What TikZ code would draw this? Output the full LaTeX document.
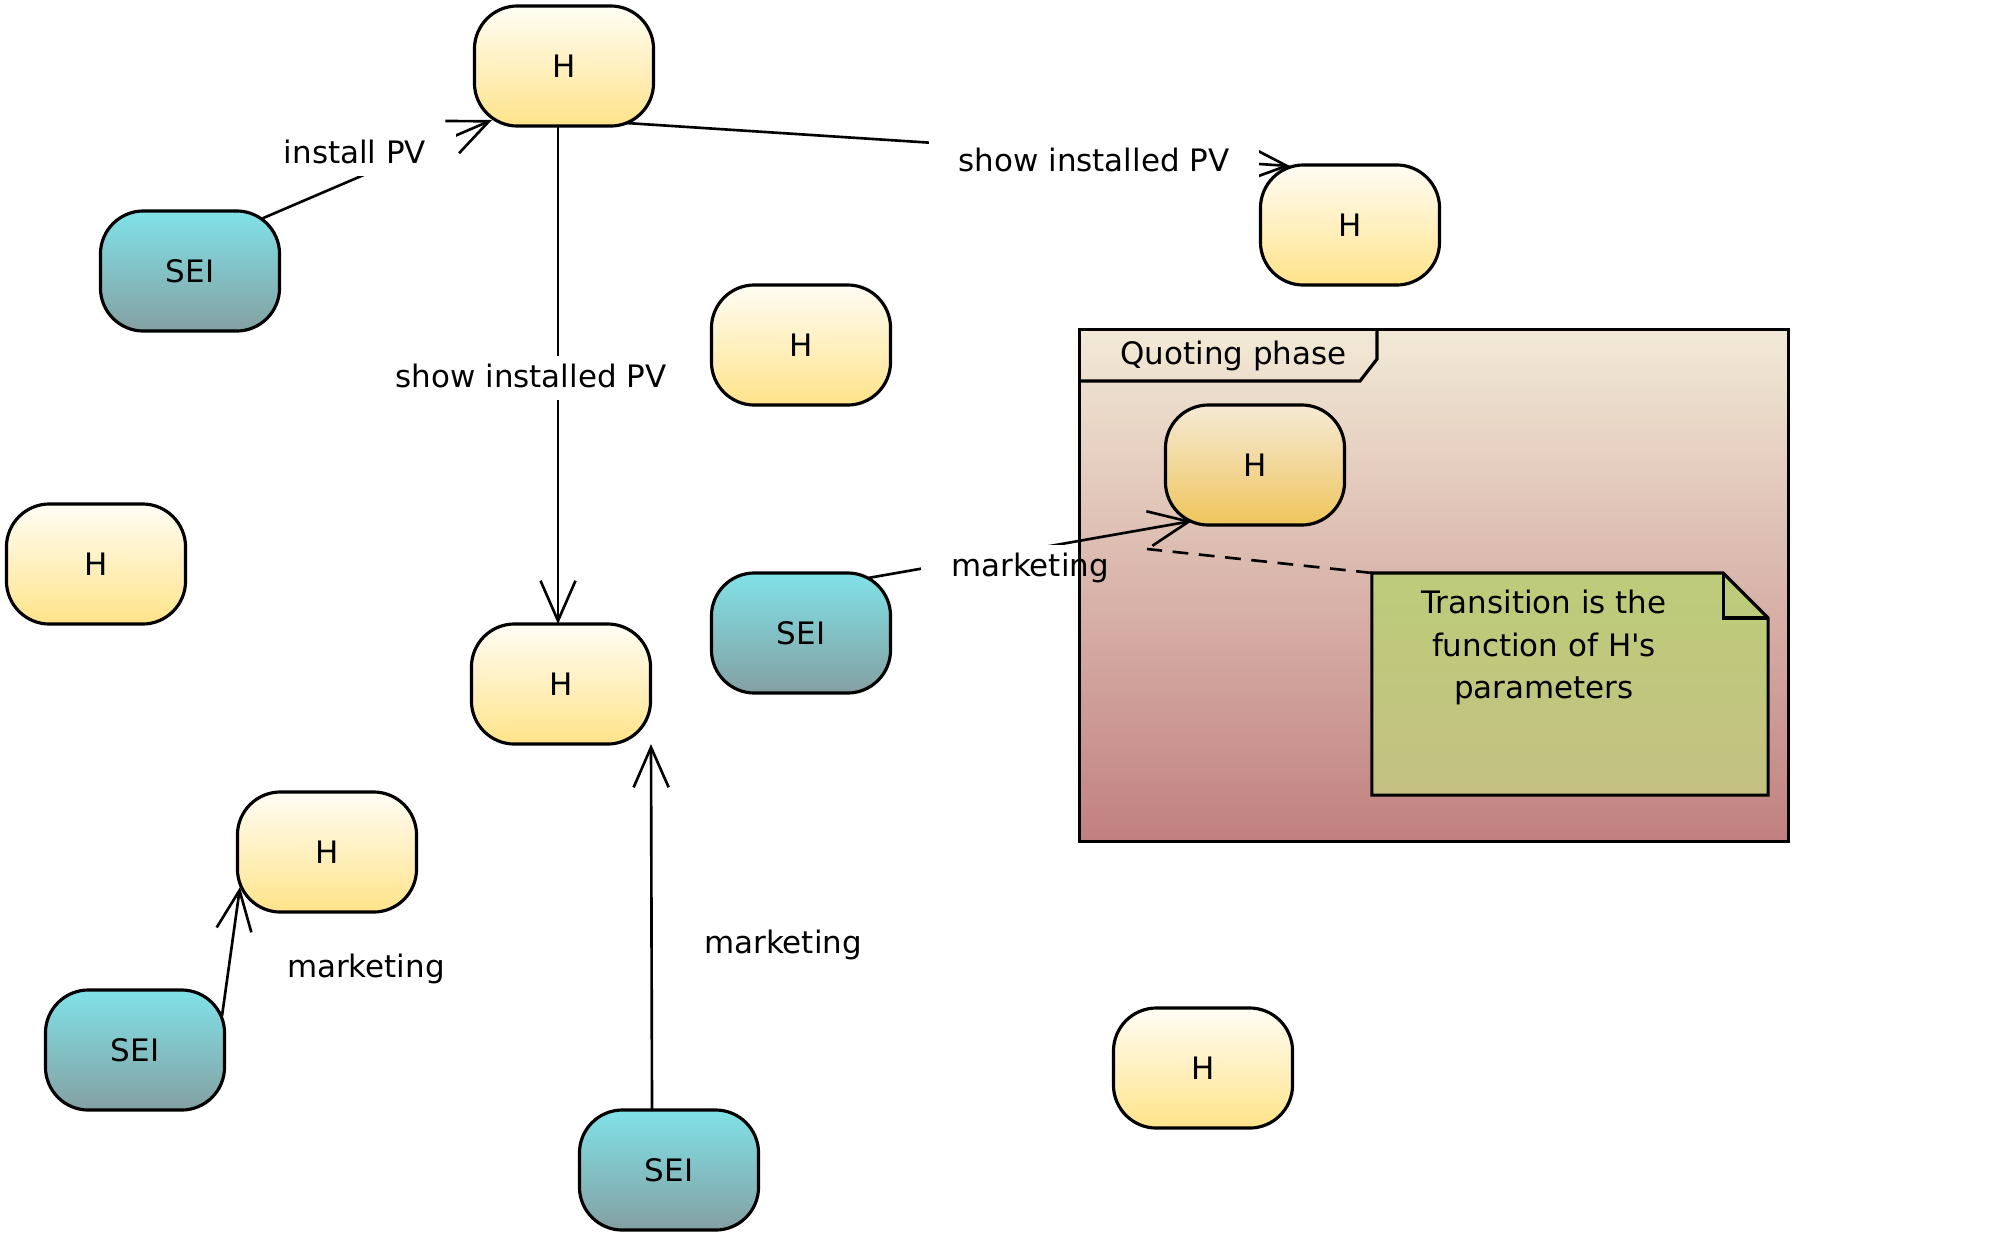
\documentclass[tikz,border=0pt]{standalone}
\usepackage{fontspec}
\setmainfont{DejaVu Sans}
\usetikzlibrary{arrows.meta,calc,positioning}
\definecolor{hTop}{RGB}{255,253,245}
\definecolor{hBot}{RGB}{255,227,138}
\definecolor{seiTop}{RGB}{128,226,232}
\definecolor{seiBot}{RGB}{132,160,162}
\definecolor{phaseTop}{RGB}{242,234,214}
\definecolor{phaseBot}{RGB}{193,128,128}
\definecolor{innerTop}{RGB}{245,234,214}
\definecolor{innerBot}{RGB}{239,197,92}
\definecolor{noteTop}{RGB}{189,204,122}
\definecolor{noteBot}{RGB}{196,193,130}
\tikzset{
  hstate/.style={draw, line width=0.9pt, rounded corners=0.43cm, minimum width=1.79cm,
    minimum height=1.2cm, inner sep=0pt, top color=hTop, bottom color=hBot},
  seistate/.style={hstate, top color=seiTop, bottom color=seiBot},
  trans/.style={line width=0.75pt, -{Straight Barb[length=0.4cm, width=0.35cm]}},
  elabel/.style={fill=white, inner xsep=0.3cm, inner ysep=0.07cm, text height=0.24cm, text depth=0.06cm},
  cutlabel/.style={elabel, fill=none, path picture={\fill[white] (path picture bounding box.north west)
    rectangle (path picture bounding box.south west -| phase.west);}},
  phasebox/.style={draw, line width=0.9pt, minimum width=7.08cm, minimum height=5.11cm,
    top color=phaseTop, bottom color=phaseBot},
  notebox/.style={minimum width=3.96cm, minimum height=2.22cm, inner sep=0pt, outer sep=0pt},
  notefill/.style={draw, line width=0.9pt, top color=noteTop, bottom color=noteBot},
  notelink/.style={line width=0.75pt, dash pattern=on 4.5pt off 3pt}
}
\begin{document}
\begin{tikzpicture}[x=0.01cm, y=-0.01cm, font=\fontsize{8.8}{12}\selectfont]
\useasboundingbox (0,0) rectangle (2016,1242);

\node[phasebox] (phase) at (1434,585.5) {};
\draw[line width=0.9pt] (1080,381) -- (1360,381) -- (1377,359) -- (1377,330);
\node[anchor=west] (phasename) at (1108,356) {Quoting phase};

\node[hstate] (h1) at (564,66) {H};
\node[seistate] (sei1) at (190,271) {SEI};
\node[hstate] (h3) at (1350,225) {H};
\node[hstate] (h4) at (801,345) {H};
\node[hstate] (h5) at (96,564) {H};
\node[hstate] (h6) at (561,684) {H};
\node[seistate] (sei2) at (801,633) {SEI};
\node[hstate, top color=innerTop, bottom color=innerBot] (h8) at (1255,465) {H};
\node[hstate] (h9) at (327,852) {H};
\node[seistate] (sei3) at (135,1050) {SEI};
\node[seistate] (sei4) at (669,1170) {SEI};
\node[hstate] (h12) at (1203,1068) {H};

\node[notebox] (note) at (1570,684) {};
\draw[notefill] (note.north west) -- ($(note.north east)+(-45,0)$) -- ($(note.north east)+(0,45)$)
  -- (note.south east) -- (note.south west) -- cycle;
\draw[line width=0.9pt] ($(note.north east)+(-45,0)$) |- ($(note.north east)+(0,45)$);
\node[align=center, below=0.05cm of note.north, xshift=-0.26cm] (notebody)
  {Transition is the\\function of H\textquotesingle s\\parameters};

\draw[trans] ($(sei1.center)+(71,-52)$) -- ($(h1.center)+(-72,54)$) node[elabel] at (355,154) {install PV};
\draw[trans] ($(h1.center)+(62,57)$) -- ($(h3.center)+(-60,-59)$) node[elabel] at (1094,162) {show installed PV};
\draw[trans] ($(h1.center)+(-6,60)$) -- ($(h6.center)+(-3,-60)$) node[elabel] at (531,378) {show installed PV};
\draw[trans] ($(sei4.center)+(-17,-60)$) -- ($(h6.center)+(90,60)$) node[elabel] at (783,944) {marketing};
\draw[trans] ($(sei3.center)+(87,-34)$) -- ($(h9.center)+(-87,35)$) node[elabel] at (366,968) {marketing};
\draw[trans] ($(sei2.center)+(67,-55)$) -- ($(h8.center)+(-63,56)$) node[cutlabel] (mlabel) at (1030,567) {marketing};

\coordinate (linkend) at (1147,549);
\draw[notelink] (note.north west) -- (linkend);
\end{tikzpicture}
\end{document}
